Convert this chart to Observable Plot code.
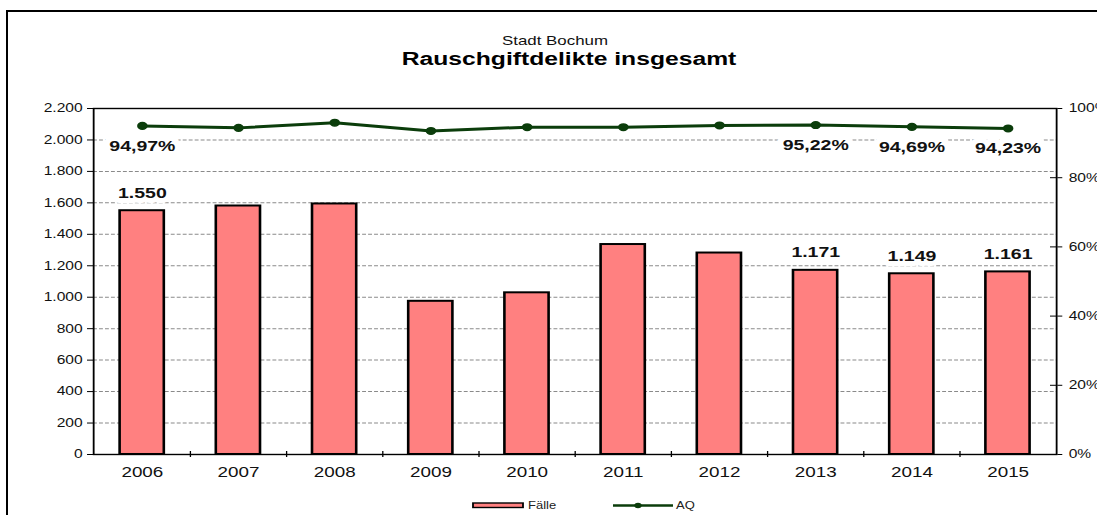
<!DOCTYPE html>
<html>
<head>
<meta charset="utf-8">
<script src="https://cdn.jsdelivr.net/npm/d3@7"></script>
<script src="https://cdn.jsdelivr.net/npm/@observablehq/plot@0.6"></script>
<style>
  html, body { margin: 0; padding: 0; background: #fff; }
  #wrap { position: relative; width: 1097px; height: 515px; overflow: hidden; font-family: "Liberation Sans", Arial, sans-serif; }
  #frame { position: absolute; left: 6px; top: 10px; width: 1200px; height: 600px; border-top: 2px solid #000; border-left: 2px solid #000; }
  #stretch { position: absolute; left: 0; top: 0; height: 515px; transform-origin: 0 0; }
  #stretch > * { position: absolute; left: 0; top: 0; }
</style>
</head>
<body>
<div id="wrap">
  <div id="frame"></div>
  <div id="stretch"></div>
</div>
<script>
// ---- data ----
const years = ["2006", "2007", "2008", "2009", "2010", "2011", "2012", "2013", "2014", "2015"];
const faelle = [1550, 1580, 1593, 974, 1028, 1335, 1281, 1171, 1149, 1161];
const aq = [94.97, 94.4, 95.9, 93.5, 94.6, 94.6, 95.1, 95.22, 94.69, 94.23];
const labeledYears = ["2006", "2013", "2014", "2015"];
const leftTicks = [0, 200, 400, 600, 800, 1000, 1200, 1400, 1600, 1800, 2000, 2200];
const rightTicks = [0, 20, 40, 60, 80, 100];
const titleLine1 = "Stadt Bochum";
const titleLine2 = "Rauschgiftdelikte insgesamt";
const legendLabels = ["Fälle", "AQ"];

// ---- layout ----
const s = 1.3;                 // horizontal stretch of the original picture
const W = 1097 / s;
const H = 490;
const mL = 93 / s, mR = 41 / s, mT = 108, mB = 36;
const innerW = W - mL - mR;
const innerH = H - mT - mB;
const step = innerW / years.length;
const yMax = leftTicks[leftTicks.length - 1];
const pctToY = yMax / 100;

const de = d3.formatLocale({decimal: ",", thousands: ".", grouping: [3], currency: ["", "€"]});
const fmtInt = de.format(",d");
const fmtPct = d => de.format(".2f")(d) + "%";

const table = years.map((year, i) => ({year, faelle: faelle[i], aq: aq[i]}));
const labeled = table.filter(d => labeledYears.includes(d.year));

const font = "Liberation Sans, Arial, sans-serif";
const green = "#0b3d0b";

const chart = Plot.plot({
  width: W,
  height: H,
  marginTop: mT,
  marginBottom: mB,
  marginLeft: mL,
  marginRight: mR,
  style: {fontFamily: font, background: "transparent", overflow: "visible", color: "#111"},
  x: {domain: years, paddingInner: 0.54, paddingOuter: 0.27},
  y: {domain: [0, yMax]},
  marks: [
    Plot.ruleY(leftTicks.slice(1, -1), {stroke: "#8a8a8a", strokeDasharray: "3,1.6", strokeWidth: 1}),
    Plot.barY(table, {x: "year", y: "faelle", fill: "#FF8080", stroke: "#000", strokeWidth: 2}),
    Plot.frame({stroke: "#000", strokeWidth: 1.4}),
    Plot.ruleX(years.slice(1), {x: d => d, dx: -step / 2, insetTop: innerH - 3, insetBottom: -3, stroke: "#000", strokeWidth: 1}),
    Plot.tickY(rightTicks.map(p => p * pctToY), {y: d => d, insetLeft: innerW - 6 / s, stroke: "#000", strokeWidth: 1}),
    Plot.line(table, {x: "year", y: d => d.aq * pctToY, stroke: green, strokeWidth: 3}),
    Plot.dot(table, {x: "year", y: d => d.aq * pctToY, r: 3.3, fill: green, stroke: green}),
    Plot.text(labeled, {x: "year", y: "faelle", text: d => fmtInt(d.faelle), dy: -18,
      fontWeight: "bold", fontSize: 15, fill: "#111", stroke: "#fff", strokeWidth: 10, paintOrder: "stroke"}),
    Plot.text(labeled, {x: "year", y: d => d.aq * pctToY, text: d => fmtPct(d.aq), dy: 20,
      fontWeight: "bold", fontSize: 15, fill: "#111", stroke: "#fff", strokeWidth: 10, paintOrder: "stroke"}),
    Plot.axisY({ticks: leftTicks, tickFormat: fmtInt, tickSize: 6 / s, tickPadding: 5 / s, fontSize: 12, label: null, stroke: "#000"}),
    Plot.axisY({anchor: "right", ticks: rightTicks.map(p => p * pctToY), tickFormat: d => Math.round(d / pctToY) + "%",
      tickSize: 5 / s, tickPadding: 7 / s, fontSize: 12, label: null, stroke: "#000"}),
    Plot.axisX({tickSize: 0, tickPadding: 12, fontSize: 14.5, label: null})
  ]
});

const stretch = document.getElementById("stretch");
stretch.style.width = W + "px";
stretch.style.transform = `scaleX(${s})`;
stretch.appendChild(chart);

// titles and legend (overlay svg, same stretched coordinates)
const ns = "http://www.w3.org/2000/svg";
const ov = document.createElementNS(ns, "svg");
ov.setAttribute("width", W);
ov.setAttribute("height", 515);
ov.setAttribute("style", "position:absolute;left:0;top:0;overflow:visible");
function el(tag, attrs, text) {
  const e = document.createElementNS(ns, tag);
  for (const k in attrs) e.setAttribute(k, attrs[k]);
  if (text != null) e.textContent = text;
  ov.appendChild(e);
  return e;
}
el("text", {x: 555 / s, y: 45, "text-anchor": "middle", "font-family": font, "font-size": 13, fill: "#111"}, titleLine1);
el("text", {x: 569 / s, y: 65, "text-anchor": "middle", "font-family": font, "font-size": 19, "font-weight": "bold", fill: "#000"}, titleLine2);
// legend
el("rect", {x: 473 / s, y: 503, width: 50 / s, height: 4.5, fill: "#FF8080", stroke: "#000", "stroke-width": 1.4});
el("text", {x: 528 / s, y: 509, "font-family": font, "font-size": 10, fill: "#222"}, legendLabels[0]);
el("line", {x1: 613 / s, x2: 673 / s, y1: 505.5, y2: 505.5, stroke: green, "stroke-width": 2.5});
el("circle", {cx: 638 / s, cy: 505.5, r: 2.8, fill: green});
el("text", {x: 676 / s, y: 509, "font-family": font, "font-size": 10, fill: "#222"}, legendLabels[1]);
stretch.appendChild(ov);
</script>
</body>
</html>
